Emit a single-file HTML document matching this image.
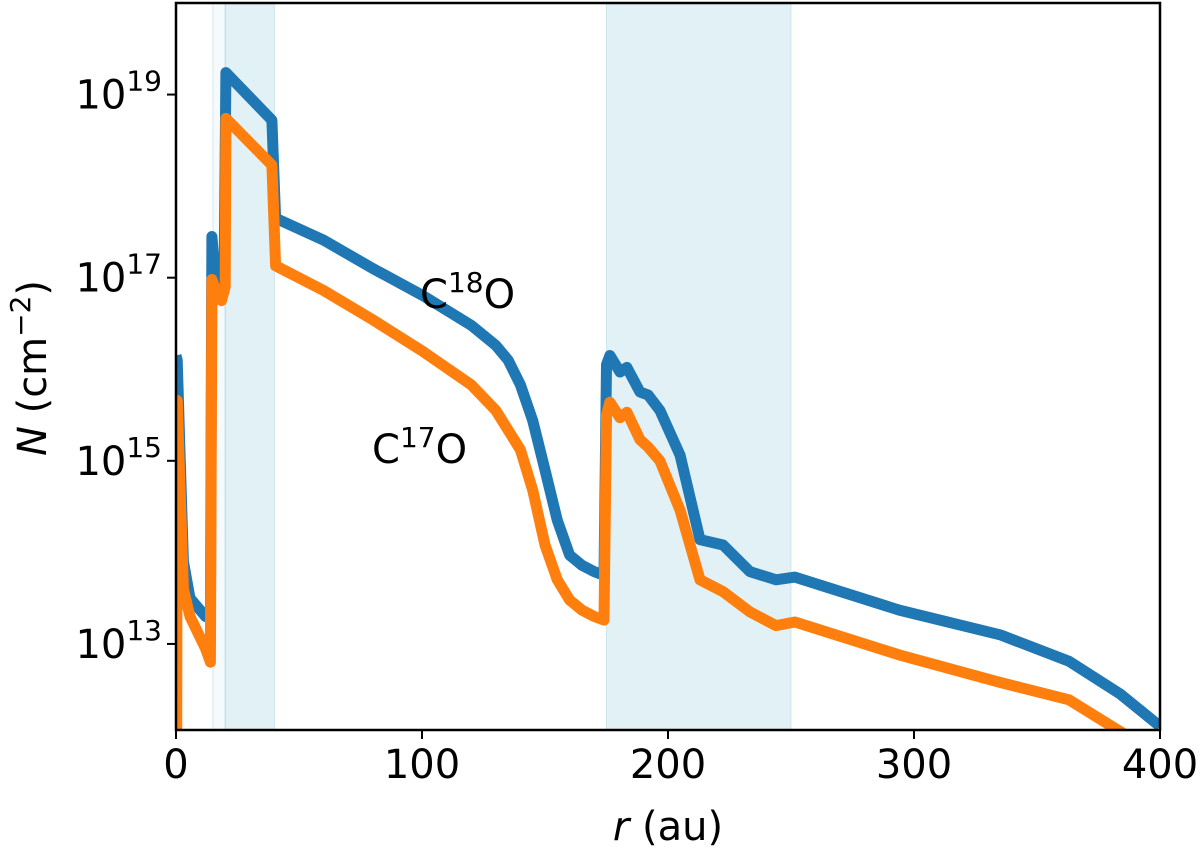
<!DOCTYPE html>
<html><head><meta charset="utf-8"><style>
body{margin:0;background:#fff;}
svg{display:block;font-family:"DejaVu Sans","Liberation Sans",sans-serif;}
</style></head><body>
<svg id="chart" width="1200" height="850">
<g id="shades"></g>
<g id="lines"></g>
<g id="axes"></g>
<text x="420" y="308" font-size="40">C<tspan font-size="28" dy="-16">18</tspan><tspan dy="16">O</tspan></text>
<text x="372" y="463" font-size="40">C<tspan font-size="28" dy="-16">17</tspan><tspan dy="16">O</tspan></text>
<text x="668" y="840" font-size="40" text-anchor="middle"><tspan font-style="italic">r</tspan> (au)</text>
<text transform="translate(46,368) rotate(-90)" font-size="40" text-anchor="middle"><tspan font-style="italic">N</tspan> (cm<tspan font-size="28" dy="-16">−2</tspan><tspan dy="16">)</tspan></text>
</svg>
<script>
const xTicks=[0,100,200,300,400];
const yTickExps=[13,15,17,19];
const shadeRegions=[[15,20,0.12],[20,40,0.35],[175,250,0.35]];
const c18oR=[0,0.5,1.5,3,5.7,12,14,14.6,16,18,19.5,20.3,39,40.5,60,80,100,120,130,135,140,145,150,155,160,165,170,174,175,176.4,180.5,183.3,188.6,191.9,196.7,204.9,213,222.4,233.3,243.9,251.6,294,335,363,384,400];
const c18oV=[16.15,16.1,15.2,13.9,13.5,13.3,13.3,17.45,17.0,16.85,16.85,19.24,18.72,17.65,17.41,17.10,16.81,16.48,16.26,16.10,15.83,15.44,14.90,14.35,13.97,13.86,13.79,13.75,16.05,16.15,15.97,16.02,15.75,15.72,15.55,15.06,14.14,14.08,13.79,13.70,13.73,13.37,13.10,12.81,12.45,12.10];
const c17oR=[0.3,0.5,1.5,3,5.7,12,14,14.6,17,18.5,20,20.3,39,40.5,60,80,100,120,130,140,145,150,155,160,165,170,174,175,176.4,180.5,183.3,188.6,191.9,196.7,204.9,213,222.4,233.3,243.9,251.6,294,335,363,384,392];
const c17oV=[11.9,15.66,14.8,13.6,13.3,12.95,12.8,16.98,16.8,16.75,16.9,18.74,18.23,17.13,16.86,16.54,16.2,15.83,15.55,15.12,14.68,14.08,13.70,13.48,13.37,13.30,13.26,15.5,15.64,15.47,15.53,15.23,15.15,15.0,14.46,13.70,13.57,13.35,13.2,13.24,12.88,12.58,12.39,12.04,11.9];
const L=176,R=1160,T=3,B=730,yMin=12.06,yMax=20.0;
const sx=r=>L+(r/400)*(R-L);
const sy=v=>B-(v-yMin)/(yMax-yMin)*(B-T);
const NS="http://www.w3.org/2000/svg";
function mk(tag,attrs,parent){const e=document.createElementNS(NS,tag);for(const k in attrs)e.setAttribute(k,attrs[k]);parent.appendChild(e);return e;}
const shades=document.getElementById('shades');
shadeRegions.forEach(s=>{
 const e=mk('rect',{x:sx(s[0]),y:T,width:sx(s[1])-sx(s[0]),height:B-T,fill:'#add8e6','fill-opacity':s[2],stroke:'#9ccbe0','stroke-opacity':0.4},shades);
 
 
});
const lines=document.getElementById('lines');
const defs=mk('defs',{},lines);
mk('rect',{x:L,y:T,width:R-L,height:B-T},mk('clipPath',{id:'clip'},defs));
function line(rs,vs,color,name){
 const d=rs.map((r,i)=>(i?'L':'M')+sx(r).toFixed(1)+','+sy(vs[i]).toFixed(1)).join(' ');
 const e=mk('path',{d:d,fill:'none',stroke:color,'stroke-width':11,'stroke-linejoin':'round','clip-path':'url(#clip)'},lines);
 
 
}
line(c18oR,c18oV,'#1f77b4','c18o-line');
line(c17oR,c17oV,'#ff7f0e','c17o-line');
const axes=document.getElementById('axes');
const frame=mk('rect',{x:L,y:T,width:R-L,height:B-T,fill:'none',stroke:'#000','stroke-width':2.5},axes);


xTicks.forEach(t=>{
 mk('line',{x1:sx(t),x2:sx(t),y1:B,y2:B+9,stroke:'#000','stroke-width':2},axes);
 const tx=mk('text',{x:sx(t),y:B+48,'font-size':40,'text-anchor':'middle'},axes);
 tx.textContent=t;
 
 
});
yTickExps.forEach(t=>{
 mk('line',{x1:L-9,x2:L,y1:sy(t),y2:sy(t),stroke:'#000','stroke-width':2},axes);
 const tx=mk('text',{x:L-14,y:sy(t)+14,'font-size':40,'text-anchor':'end'},axes);
 tx.innerHTML='10<tspan font-size="28" dy="-18">'+t+'</tspan>';
 
 
});
</script>
</body></html>
